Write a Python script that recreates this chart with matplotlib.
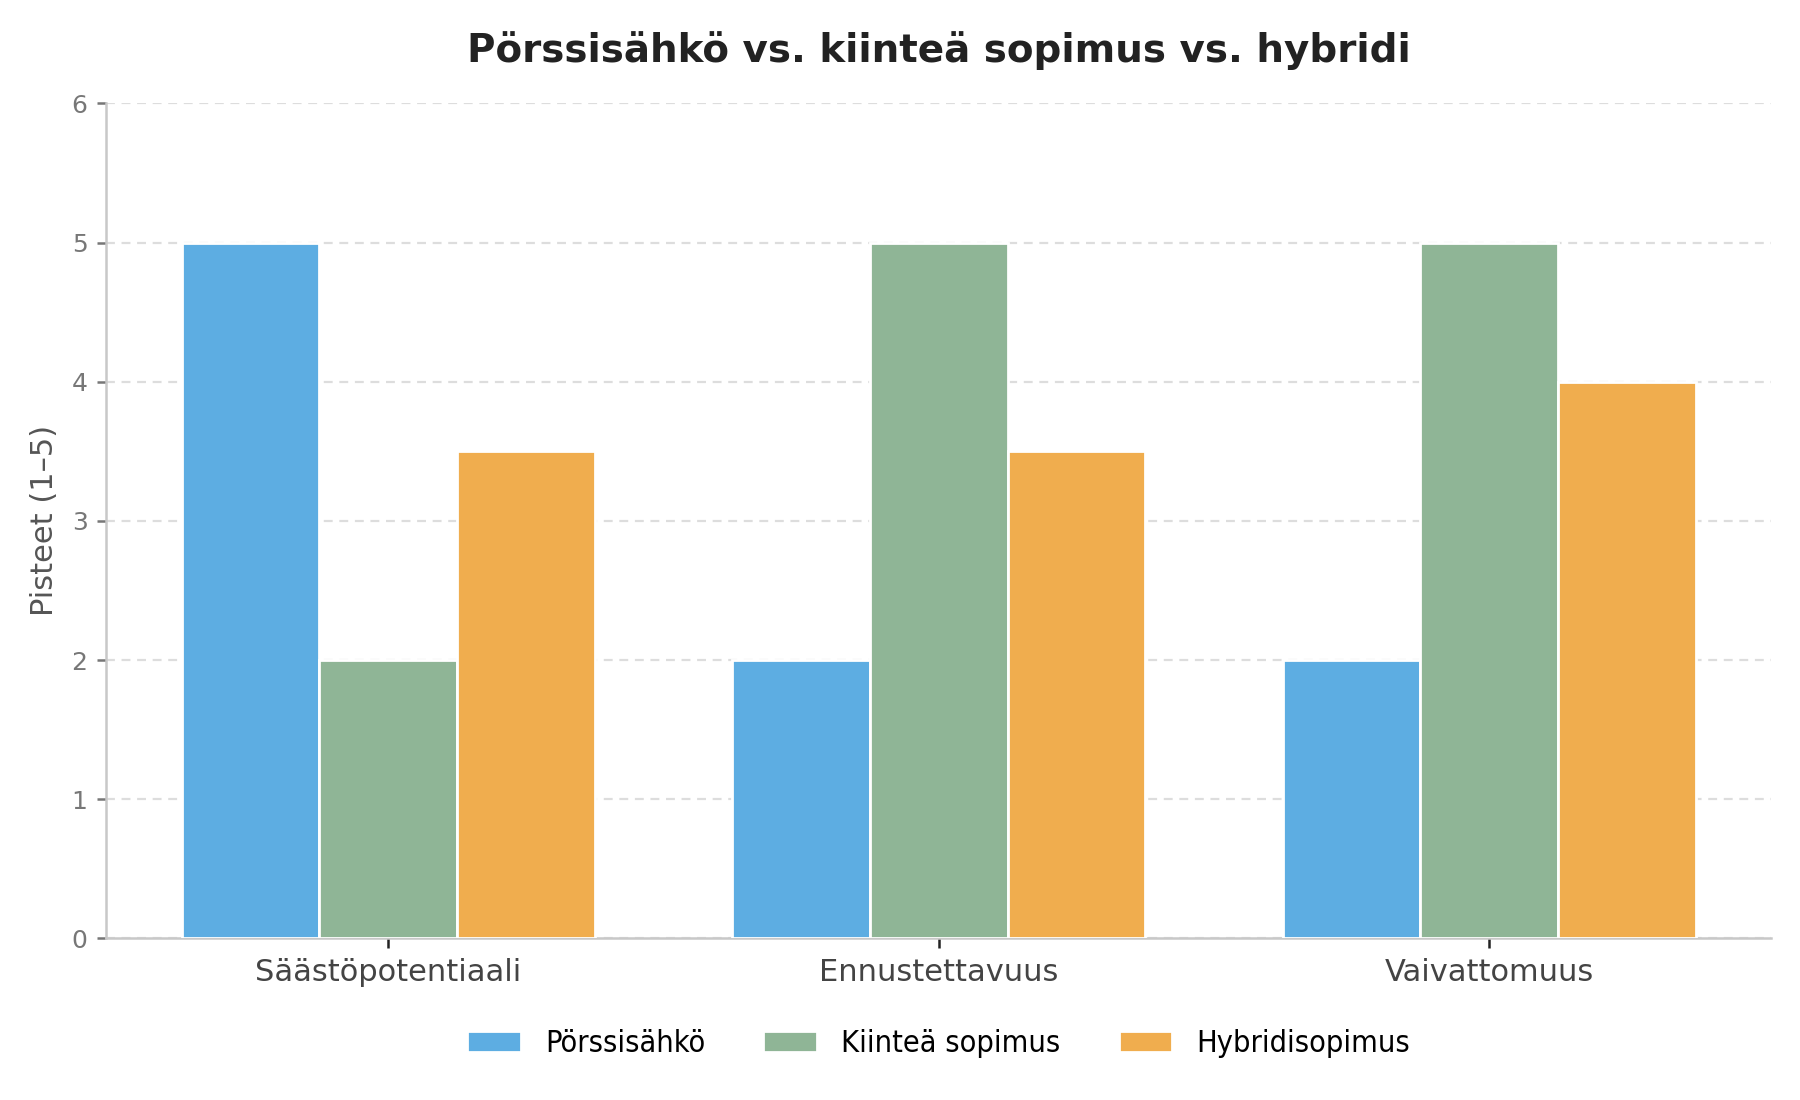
import matplotlib
matplotlib.use("Agg")
import matplotlib.pyplot as plt
import numpy as np

categories = ["Säästöpotentiaali", "Ennustettavuus", "Vaivattomuus"]
series_names = ["Pörssisähkö", "Kiinteä sopimus", "Hybridisopimus"]
porssisahko = [5, 2, 2]
kiintea = [2, 5, 5]
hybridi = [3.5, 3.5, 4]
yticks = [0, 1, 2, 3, 4, 5, 6]
title = "Pörssisähkö vs. kiinteä sopimus vs. hybridi"
ylabel = "Pisteet (1–5)"

colors = ["#5DADE2", "#8FB596", "#F0AD4E"]

plt.rcParams['font.family'] = ['DejaVu Sans']
fig = plt.figure(figsize=(9, 5.5), dpi=200)
ax_left, ax_bottom, ax_w, ax_h = 0.059, 0.147, 0.925, 0.759
ax = fig.add_axes([ax_left, ax_bottom, ax_w, ax_h])

x = np.arange(len(categories))
w = 0.25
for i, (vals, name) in enumerate(zip([porssisahko, kiintea, hybridi], series_names)):
    ax.bar(x + (i - 1) * w, vals, width=w, color=colors[i], edgecolor="white",
           linewidth=1.0, label=name, zorder=3)

ax.set_ylim(0, 6)
ax.set_yticks(yticks)
ax.set_xticks(x)
ax.set_xticklabels(categories, fontsize=11, color="#444444")
ax.tick_params(axis="x", length=3.5, width=0.9, color="#222222", pad=3.5)
ax.tick_params(axis="y", labelsize=9, labelcolor="#777777", color="#777777", length=3.2, width=0.9)
ax.set_ylabel(ylabel, fontsize=11, color="#555555", labelpad=4.5)
ax.set_title(title, fontsize=14, fontweight="bold", color="#222222", pad=15)

ax.yaxis.grid(True, linestyle=(0, (4, 3)), color="#dddddd", linewidth=0.8, zorder=0)
ax.set_axisbelow(True)
for s in ["top", "right"]:
    ax.spines[s].set_visible(False)
for s in ["left", "bottom"]:
    ax.spines[s].set_color("#c8c8c8")
    ax.spines[s].set_linewidth(0.9)

handles, labels = ax.get_legend_handles_labels()
fig.legend(handles, labels, loc="center", bbox_to_anchor=(ax_left + ax_w / 2, 0.051), ncol=3,
           frameon=False, prop={"size": 11, "stretch": "condensed"},
           handlelength=1.75, handletextpad=0.8, columnspacing=1.9)

fig.savefig("out.png", dpi=200, facecolor="white")
